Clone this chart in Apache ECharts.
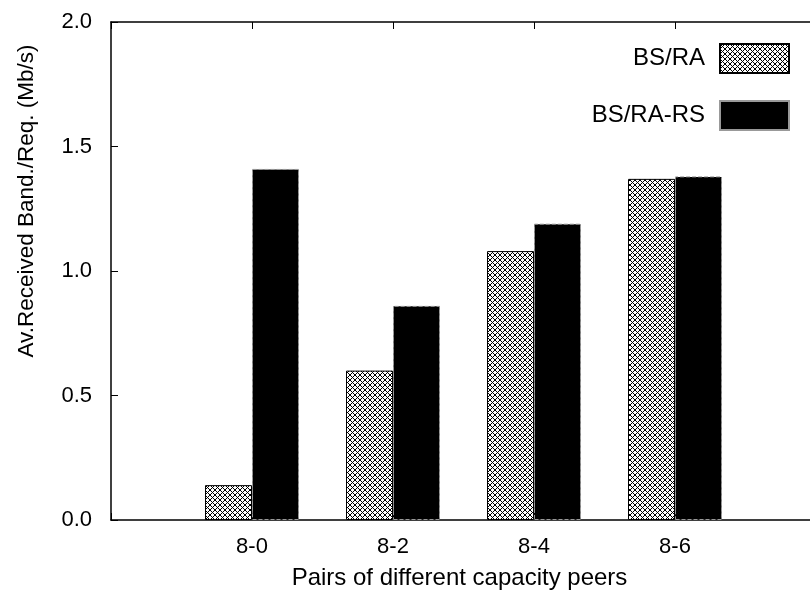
<!DOCTYPE html>
<html>
<head>
<meta charset="utf-8">
<script src="https://cdn.jsdelivr.net/npm/echarts@6/dist/echarts.min.js"></script>
<style>
html,body{margin:0;padding:0;background:#fff;}
#chart{width:810px;height:599px;}
</style>
</head>
<body>
<div id="chart"></div>
<script>
const categories = ['', '8-0', '8-2', '8-4', '8-6', ''];
const seriesNames = ['BS/RA', 'BS/RA-RS'];
const bsRA = ['-', 0.14, 0.60, 1.08, 1.37, '-'];
const bsRARS = ['-', 1.41, 0.86, 1.19, 1.38, '-'];
const yMin = 0, yMax = 2.0, yStep = 0.5;
const xTitle = 'Pairs of different capacity peers';
const yTitle = 'Av.Received Band./Req. (Mb/s)';

const FONT = "'Liberation Sans', Arial, sans-serif";

function makeHatch() {
  const s = 5;
  const c = document.createElement('canvas');
  c.width = s; c.height = s;
  const g = c.getContext('2d');
  g.fillStyle = '#fff';
  g.fillRect(0, 0, s, s);
  g.fillStyle = '#000';
  for (let i = 0; i < s; i++) {
    g.fillRect(i, i, 1, 1);
    g.fillRect(s - 1 - i, i, 1, 1);
  }
  return c;
}
const hatch = { image: makeHatch(), repeat: 'repeat' };

const chart = echarts.init(document.getElementById('chart'), null, { renderer: 'canvas' });
chart.setOption({
  animation: false,
  backgroundColor: '#fff',
  textStyle: { fontFamily: FONT },
  grid: { left: 111, top: 22, width: 705, height: 498, containLabel: false, outerBoundsMode: 'none' },
  legend: [
    {
      data: [seriesNames[0]], right: 15, top: 38, align: 'right',
      itemWidth: 69, itemHeight: 29, icon: 'rect',
      textStyle: { fontFamily: FONT, fontSize: 24, color: '#000', padding: [0, 10, 0, 0] }
    },
    {
      data: [seriesNames[1]], right: 15, top: 95, align: 'right',
      itemWidth: 69, itemHeight: 29, icon: 'rect',
      textStyle: { fontFamily: FONT, fontSize: 24, color: '#000', padding: [0, 10, 0, 0] }
    }
  ],
  xAxis: [
    {
      type: 'category', data: categories, boundaryGap: false, position: 'bottom',
      axisLine: { lineStyle: { color: '#000', width: 1.5 } },
      axisTick: { show: true, inside: true, length: 7, interval: 0, lineStyle: { color: '#000' } },
      axisLabel: { interval: 0, color: '#000', fontSize: 22, fontFamily: FONT, margin: 16 },
      splitLine: { show: false },
      name: xTitle, nameLocation: 'middle', nameGap: 46,
      nameTextStyle: { color: '#000', fontSize: 24, fontFamily: FONT, padding: [0, 8, 0, 0] }
    },
    {
      type: 'category', data: categories, boundaryGap: false, position: 'top',
      axisLine: { lineStyle: { color: '#000', width: 1.5 } },
      axisTick: { show: true, inside: true, length: 7, interval: 0, lineStyle: { color: '#000' } },
      axisLabel: { show: false },
      splitLine: { show: false }
    }
  ],
  yAxis: {
    type: 'value', min: yMin, max: yMax, interval: yStep,
    axisLine: { show: true, lineStyle: { color: '#000', width: 1.5 } },
    axisTick: { show: true, inside: true, length: 7, lineStyle: { color: '#000' } },
    axisLabel: { color: '#000', fontSize: 22, fontFamily: FONT, margin: 19,
      formatter: v => v.toFixed(1) },
    splitLine: { show: false }
  },
  graphic: [
    {
      type: 'text', x: 27, y: 201, rotation: Math.PI / 2,
      style: { text: yTitle, fill: '#000', font: "22.5px 'Liberation Sans', Arial, sans-serif",
        textAlign: 'center', textVerticalAlign: 'middle' }
    }
  ],
  series: [
    {
      name: seriesNames[0], type: 'bar', data: bsRA, barWidth: 47, barGap: '0%',
      itemStyle: { color: hatch, borderColor: '#000', borderWidth: 1 }
    },
    {
      name: seriesNames[1], type: 'bar', data: bsRARS, barWidth: 47, barGap: '0%',
      itemStyle: { color: '#000', borderColor: '#999', borderWidth: 1, borderType: 'dashed' }
    }
  ]
});
</script>
</body>
</html>
